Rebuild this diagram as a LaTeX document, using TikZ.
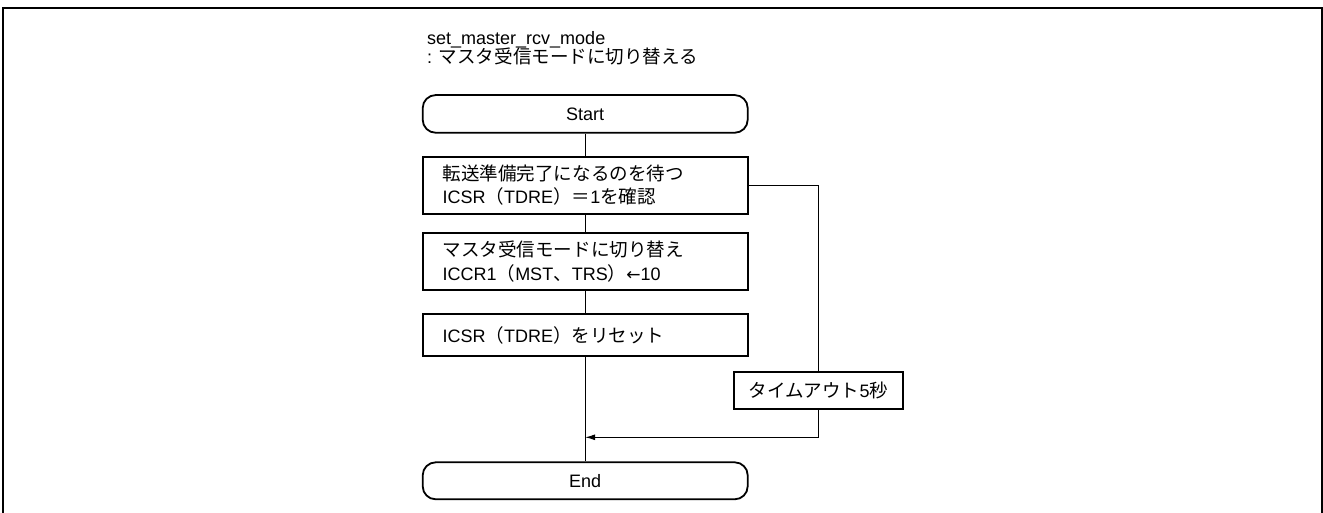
\documentclass[tikz,border=0pt]{standalone}
\usepackage{fontspec}
\setmainfont{Liberation Sans}
\newfontfamily\jp{Noto Sans CJK JP}[Scale=1.03]
\newfontfamily\sym{DejaVu Sans}[Scale=0.95]
\newcommand{\J}[1]{{\jp #1}}
\usetikzlibrary{arrows.meta}
\begin{document}
\begin{tikzpicture}[x=1pt,y=-1pt,
  box/.style={draw,line width=2.2pt,minimum width=325pt,text width=285pt,inner xsep=20pt,inner ysep=0pt,align=left,font=\fontsize{18}{23.5}\selectfont},
  tbox/.style={draw,line width=2.2pt,minimum width=168.7pt,minimum height=37.6pt,inner sep=0pt,font=\fontsize{18}{22}\selectfont},
  term/.style={draw,line width=1.8pt,rounded corners=13pt,minimum width=325pt,inner sep=0pt,font=\fontsize{18}{22}\selectfont},
  conn/.style={line width=0.9pt},
  ttl/.style={anchor=base west,inner sep=0pt,font=\fontsize{18}{22}\selectfont}
]
\useasboundingbox (0,0) rectangle (1323,512);
\draw[line width=2pt] (3.3,514) -- (3.3,8.3) -- (1321.7,8.3) -- (1321.7,514);

\node[ttl] (title1) at (427,44.5) {set\_master\_rcv\_mode};
\node[ttl] (title2) at (427,63.5) {: \J{マスタ受信モードに切り替える}};

\node[term,minimum height=37.7pt] (start) at (585.2,113.9) {Start};
\node[box,minimum height=57.3pt] (b1) at (585.2,185.3) {\J{転送準備完了になるのを待つ}\\ICSR\J{（}TDRE\J{）＝}1\J{を確認}};
\node[box,minimum height=56.7pt] (b2) at (585.2,261.7) {\J{マスタ受信モードに切り替え}\\ICCR1\J{（}MST\J{、}TRS\J{）}{\sym ←}10};
\node[box,minimum height=42pt] (b3) at (585.2,335) {ICSR\J{（}TDRE\J{）をリセット}};
\node[tbox] (to) at (818.35,390.5) {\J{タイムアウト}5\J{秒}};
\node[term,minimum height=37pt] (end) at (585.2,480.8) {End};

\coordinate (join) at (585.2,437.3);

\draw[conn] (start) -- (b1);
\draw[conn] (b1) -- (b2);
\draw[conn] (b2) -- (b3);
\draw[conn] (b3) -- (end);
\draw[conn] (b1.east) -| (to.north);
\draw[conn,-{Latex[length=10pt,width=6pt]}] (to.south) |- (join);
\end{tikzpicture}
\end{document}
